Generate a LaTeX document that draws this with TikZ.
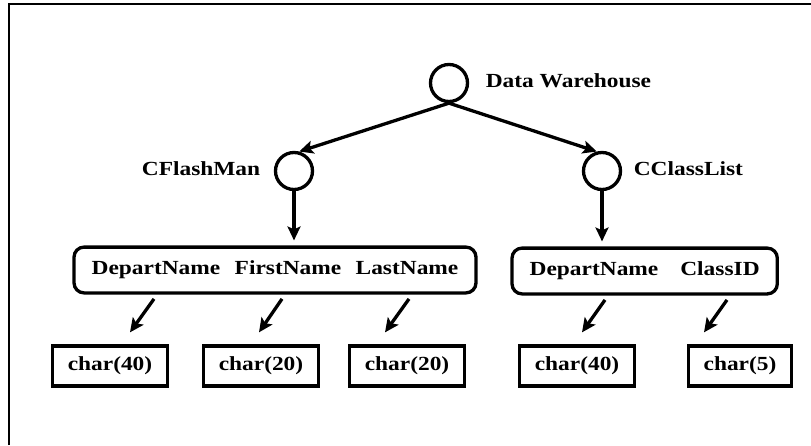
\documentclass[tikz,border=0pt]{standalone}
\usepackage{fontspec}
\setmainfont{Liberation Serif}[FakeStretch=1.17]
\usetikzlibrary{arrows.meta,positioning,fit}

\tikzset{
    every node/.style={font=\fontsize{20}{24}\selectfont\bfseries},
    obj/.style={circle, draw, minimum size=37pt, inner sep=0pt},
    fld/.style={inner sep=0pt, text height=14pt, text depth=4.5pt},
    rec/.style={draw, rounded corners=10pt, inner xsep=16pt, inner ysep=12pt},
    typ/.style={draw, inner xsep=15pt, minimum height=40pt},
    arr/.style={-{Stealth[length=14pt,width=13pt,inset=3pt]}}
}

\begin{document}
\begin{tikzpicture}[x=1pt, y=-1pt, line width=3.3pt]
        \useasboundingbox (0,0) rectangle (811,445);
        \draw[line width=2.2pt] (9,445) -- (9,4.3) -- (811,4.3);

        % object tree
        \node[obj] (dw) at (449,83) {};
        \node[obj] (fm) at (294,171) {};
        \node[obj] (cl) at (602,171) {};
        \node[fld, right=15pt of dw] (dwname) {Data Warehouse};
        \node[fld, left=12pt of fm] (fmname) {CFlashMan};
        \node[fld, right=10pt of cl] (clname) {CClassList};

        % attribute records
        \foreach \n/\x/\y/\t in {dnA/156/270/DepartName, fnA/288/270/FirstName, lnA/407/270/LastName, dnB/594/271/DepartName, ciB/720/271/ClassID}
            \node[fld] (\n) at (\x,\y) {\t};
        \node[rec, fit=(dnA)(lnA)] (recA) {};
        \node[rec, fit=(dnB)(ciB)] (recB) {};

        % attribute types
        \foreach \n/\x/\t in {tA/110/{char(40)}, tB/261/{char(20)}, tC/407/{char(20)}, tD/577/{char(40)}, tE/740/{char(5)}}
            \node[typ] (\n) at (\x,366) {\t};

        \draw[arr] (dw.south) -- (fm.75);
        \draw[arr] (dw.south) -- (cl.105);
        \draw[arr, shorten >=5pt] (fm.south) -- (fm |- recA.north);
        \draw[arr, shorten >=5pt] (cl.south) -- (cl |- recB.north);
        \foreach \f/\t/\sx/\ex in {dnA/tA/-2/20, fnA/tB/-6/-2, lnA/tC/2/-22, dnB/tD/11/5, ciB/tE/7/-36}
            \draw[arr] ([shift={(\sx pt,-18pt)}]\f.south) -- ([shift={(\ex pt,12pt)}]\t.north);
    \end{tikzpicture}
\end{document}
